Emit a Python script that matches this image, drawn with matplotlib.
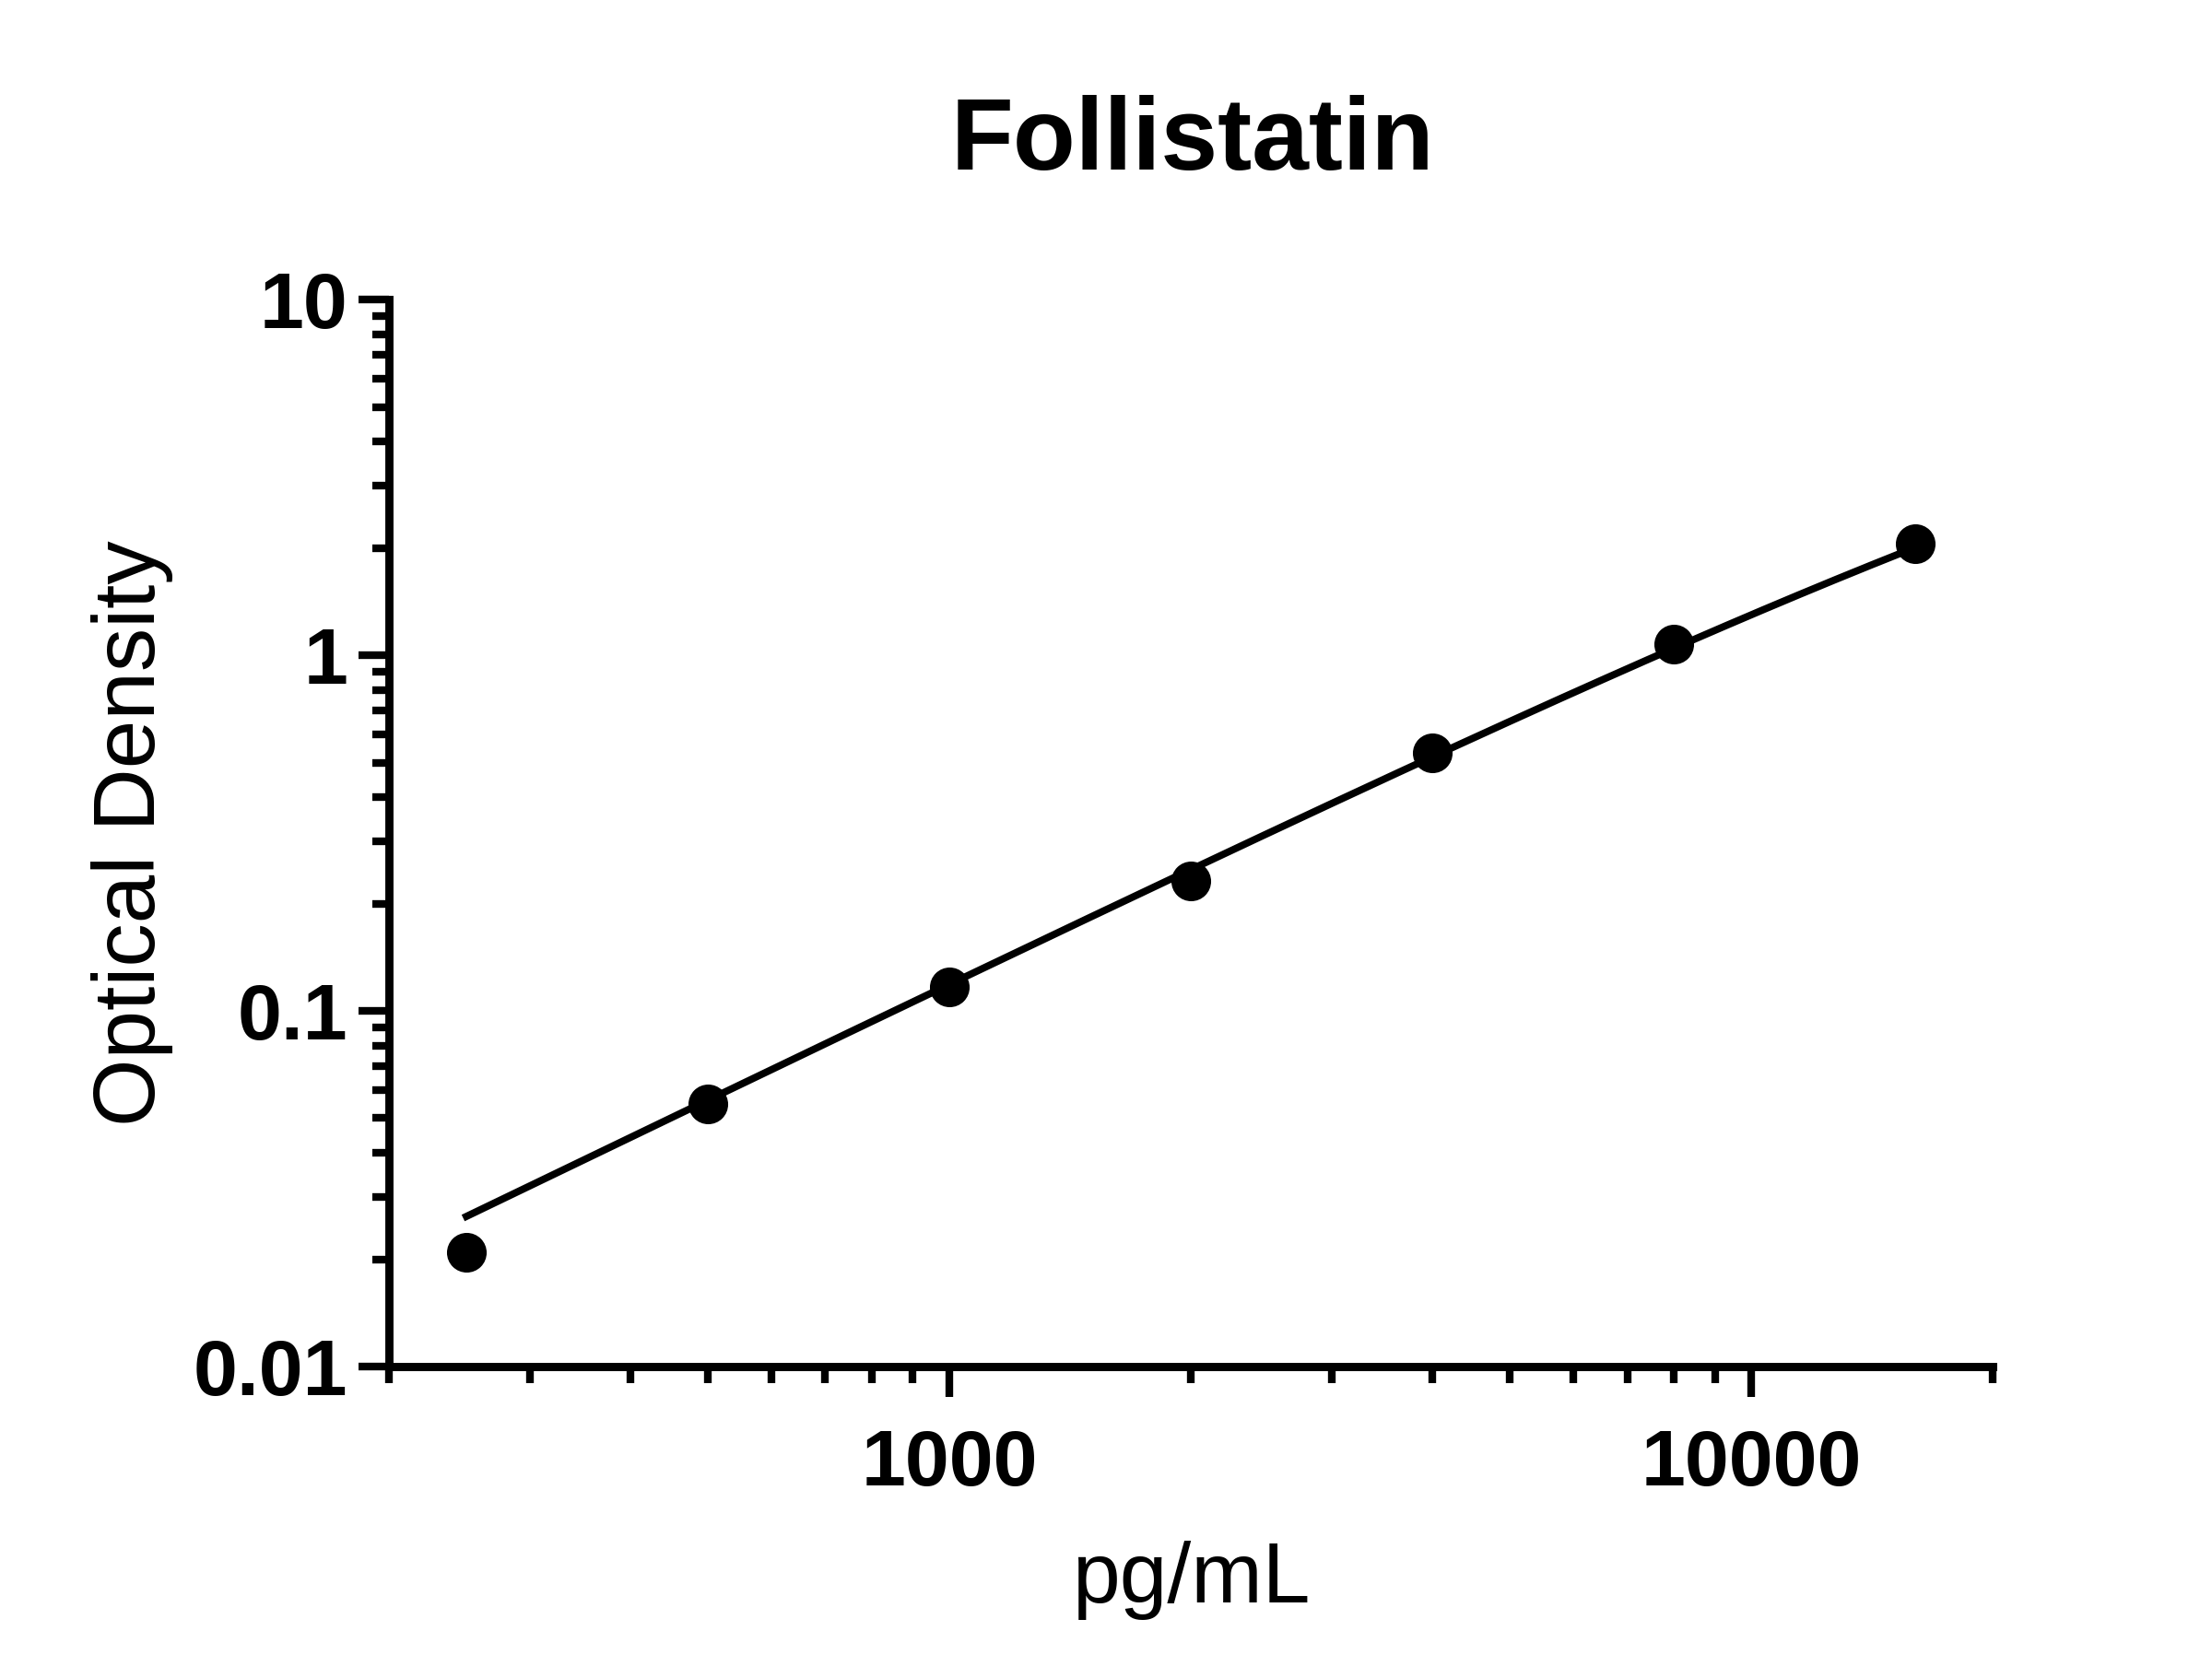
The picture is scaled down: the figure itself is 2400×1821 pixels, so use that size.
import numpy as np
import matplotlib
matplotlib.use("Agg")
from matplotlib import pyplot as plt
from matplotlib.ticker import FixedLocator, FixedFormatter, NullFormatter

plt.rcParams['font.family'] = ['Liberation Sans', 'DejaVu Sans']

# standards (pg/mL) and measured optical density
conc = [250, 500, 1000, 2000, 4000, 8000, 16000]
od = [0.021, 0.0548, 0.117, 0.232, 0.533, 1.077, 2.06]

# 4PL fit parameters: bottom, hill slope, EC50, top
fit_a = 0.0
fit_b = 1.09
fit_c = 62500.0
fit_d = 10.9

xs = np.logspace(np.log10(conc[0]), np.log10(conc[-1]), 200)
ys = fit_d + (fit_a - fit_d) / (1 + (xs / fit_c) ** fit_b)

fig = plt.figure(figsize=(12, 9.105), dpi=200)
ax = fig.add_axes([0.1757, 0.1855, 0.7253, 0.6358])

ax.plot(xs, ys, color='black', linewidth=2.8, zorder=2)
ax.plot(conc, od, 'o', color='black', markersize=14.5, zorder=3)

ax.set_xscale('log')
ax.set_yscale('log')
ax.set_xlim(200, 20000)
ax.set_ylim(0.01, 10)

ax.spines['top'].set_visible(False)
ax.spines['right'].set_visible(False)
for s in ['left', 'bottom']:
    ax.spines[s].set_linewidth(3.2)
    ax.spines[s].set_capstyle('projecting')

ax.xaxis.set_major_locator(FixedLocator([1000, 10000]))
ax.xaxis.set_major_formatter(FixedFormatter(['1000', '10000']))
xminor = [200, 300, 400, 500, 600, 700, 800, 900,
          2000, 3000, 4000, 5000, 6000, 7000, 8000, 9000, 20000]
ax.xaxis.set_minor_locator(FixedLocator(xminor))
ax.xaxis.set_minor_formatter(NullFormatter())

ax.yaxis.set_major_locator(FixedLocator([0.01, 0.1, 1, 10]))
ax.yaxis.set_major_formatter(FixedFormatter(['0.01', '0.1', '1', '10']))
yminor = [m * 10.0 ** e for e in (-2, -1, 0) for m in range(2, 10)]
ax.yaxis.set_minor_locator(FixedLocator(yminor))
ax.yaxis.set_minor_formatter(NullFormatter())

ax.tick_params(which='major', length=12, width=3.0, direction='out')
ax.tick_params(which='minor', length=6.5, width=3.0, direction='out')
ax.tick_params(axis='x', which='major', pad=12)
ax.tick_params(axis='y', which='major', pad=4)
for lab in ax.get_xticklabels() + ax.get_yticklabels():
    lab.set_fontsize(31)
    lab.set_fontweight('bold')

ax.set_xlabel('pg/mL', fontsize=33.5)
ax.set_ylabel('Optical Density', fontsize=34)
ax.xaxis.set_label_coords(0.5, -0.163)
ax.yaxis.set_label_coords(-0.134, 0.5)

fig.text(0.539, 0.915, 'Follistatin', fontsize=40, fontweight='bold',
         ha='center', va='center')

plt.savefig('out.png', dpi=200)
